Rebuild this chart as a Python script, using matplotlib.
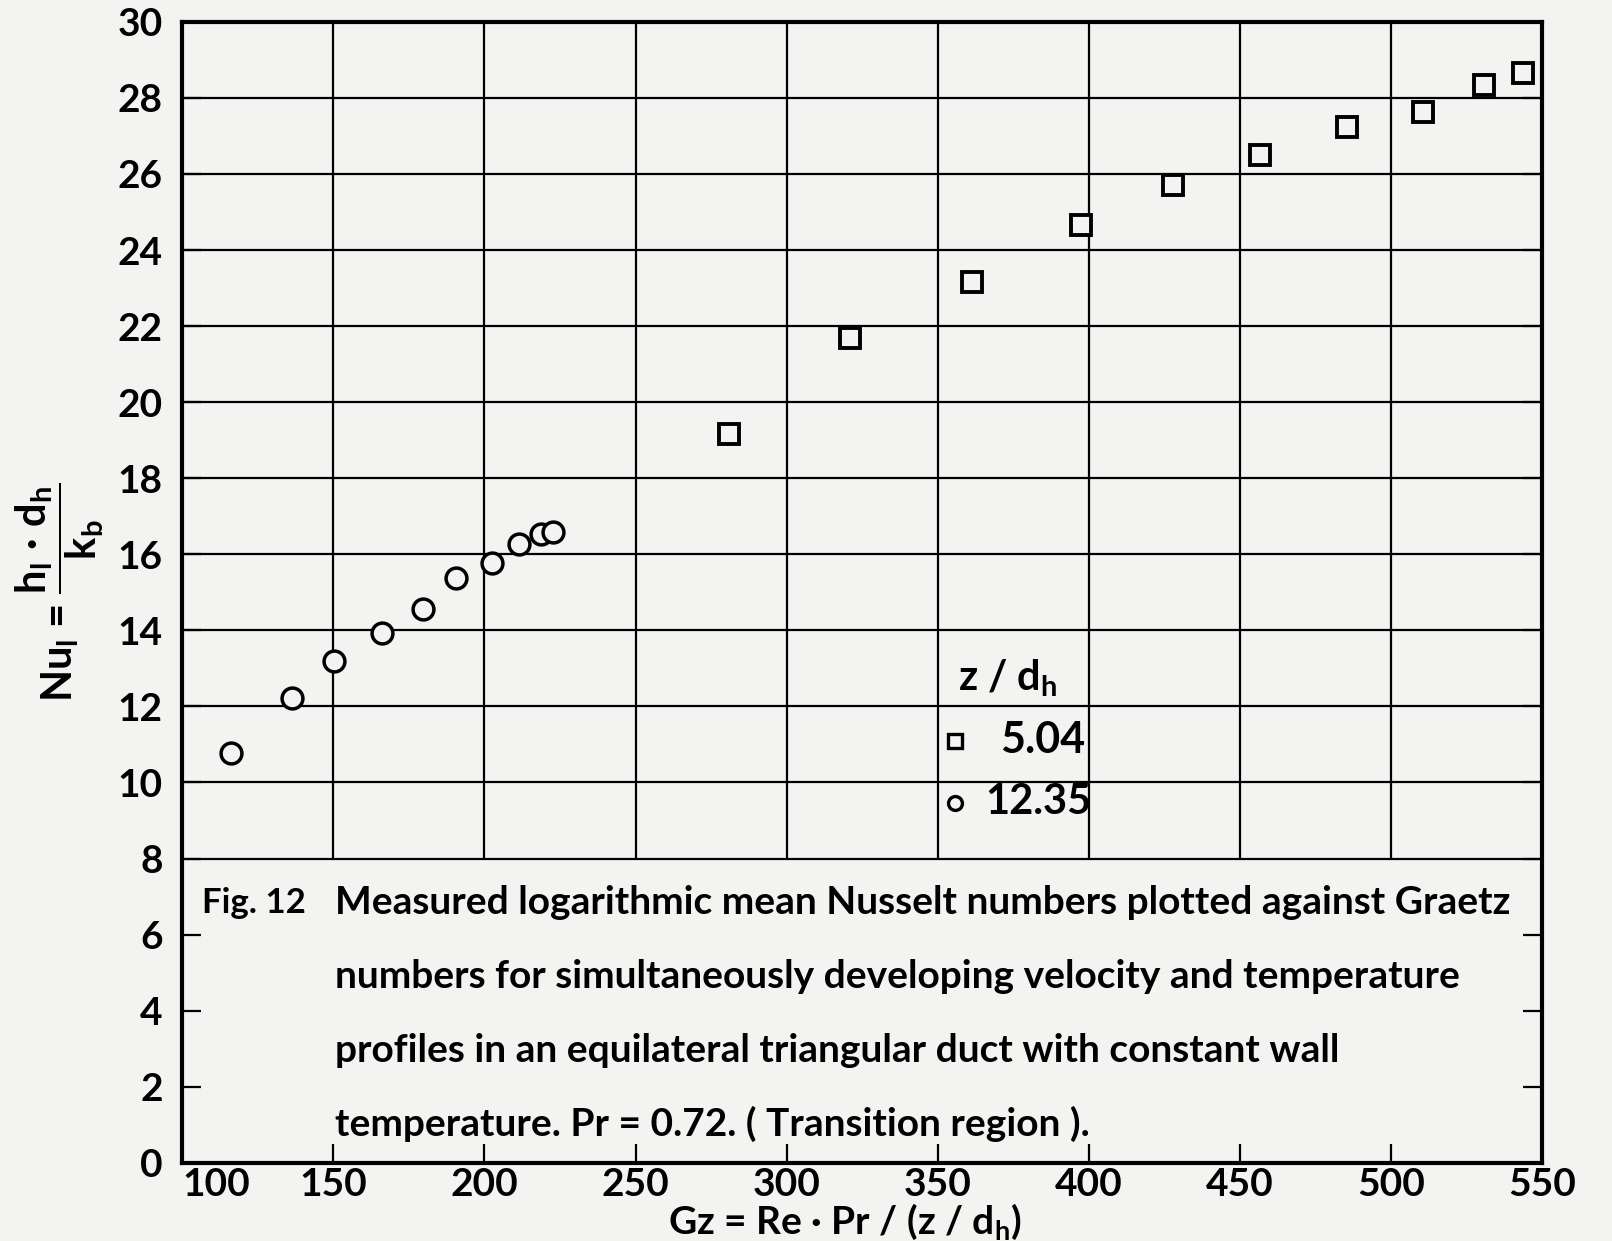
import numpy as np
import matplotlib
matplotlib.use("Agg")
import matplotlib.pyplot as plt

plt.rcParams['font.family'] = ['Lato', 'DejaVu Sans']
plt.rcParams['font.weight'] = 'bold'
plt.rcParams['axes.labelweight'] = 'bold'
plt.rcParams['mathtext.fontset'] = 'custom'
plt.rcParams['mathtext.rm'] = 'Lato:bold'
plt.rcParams['mathtext.it'] = 'Lato:bold'
plt.rcParams['mathtext.bf'] = 'Lato:bold'

# z/dh = 12.35 (circles)
gz_circ = [116.3, 136.4, 150.3, 166.0, 179.6, 190.5, 202.4, 211.6, 218.7, 222.8]
nu_circ = [10.78, 12.22, 13.19, 13.92, 14.57, 15.38, 15.78, 16.27, 16.54, 16.59]

# z/dh = 5.04 (squares)
gz_sq = [281.0, 321.1, 361.2, 397.3, 427.9, 456.5, 485.4, 510.5, 530.6, 543.5]
nu_sq = [19.16, 21.70, 23.16, 24.65, 25.70, 26.51, 27.24, 27.62, 28.35, 28.65]

xticks = np.arange(100, 551, 50)
yticks = np.arange(0, 31, 2)

caption = ["Measured logarithmic mean Nusselt numbers plotted against Graetz",
           "numbers for simultaneously developing velocity and temperature",
           "profiles in an equilateral triangular duct with constant wall",
           "temperature. Pr = 0.72. ( Transition region )."]

bg = '#f3f3f1'
fig = plt.figure(figsize=(16.12, 12.41), dpi=100, facecolor=bg)
ax = fig.add_axes([0.113, 0.063, 0.8437, 0.9194], facecolor=bg)

ax.set_xlim(100, 550)
ax.set_ylim(0, 30)

# grid only above the caption area
ax.vlines(xticks[1:-1], 8, 30, color='black', lw=1.6, zorder=1)
ax.hlines(yticks[4:-1], 100, 550, color='black', lw=1.6, zorder=1)

ax.plot(gz_sq, nu_sq, 's', ms=14, mfc=bg, mec='black', mew=2.8, zorder=3)
ax.plot(gz_circ, nu_circ, 'o', ms=15, mfc=bg, mec='black', mew=2.5, zorder=3)

# legend drawn by hand like the original
ax.text(356.8, 12.75, r'z / d$_\mathregular{h}$', fontsize=30, ha='left', va='center', zorder=4)
ax.plot([355.8], [11.08], 's', ms=10, mfc=bg, mec='black', mew=2.4, zorder=4)
ax.text(370.7, 11.12, '5.04', fontsize=31, ha='left', va='center', zorder=4)
ax.plot([355.8], [9.46], 'o', ms=10, mfc=bg, mec='black', mew=2.4, zorder=4)
ax.text(365.6, 9.50, '12.35', fontsize=30, ha='left', va='center', zorder=4)

# caption
ax.text(106.5, 6.84, 'Fig. 12', fontsize=25, ha='left', va='center')
for i, line in enumerate(caption):
    ax.text(150.7, 6.84 - 1.94 * i, line, fontsize=28, ha='left', va='center')

ax.set_xticks(xticks)
ax.set_yticks(yticks)
ax.tick_params(direction='in', length=14, width=1.6, labelsize=28,
               left=True, right=True, bottom=True, top=False)
ax.tick_params(axis='y', pad=14)
ax.tick_params(axis='x', pad=3)
xl = ax.get_xticklabels()
xl[0].set_ha('left')
for s in ax.spines.values():
    s.set_linewidth(3)

ax.set_xlabel('Gz = Re · Pr / (z / d$_\\mathregular{h}$)', fontsize=28)
ax.xaxis.set_label_coords(0.487, -0.034, transform=ax.transAxes)
ax.xaxis.label.set_va('top')
ax.set_ylabel(r'Nu$_\mathregular{l}$ = $\dfrac{\mathregular{h_l\ ·\ d_h}}{\mathregular{k_b}}$',
              fontsize=30, labelpad=8)

fig.savefig('out.png', dpi=100, facecolor=bg)
